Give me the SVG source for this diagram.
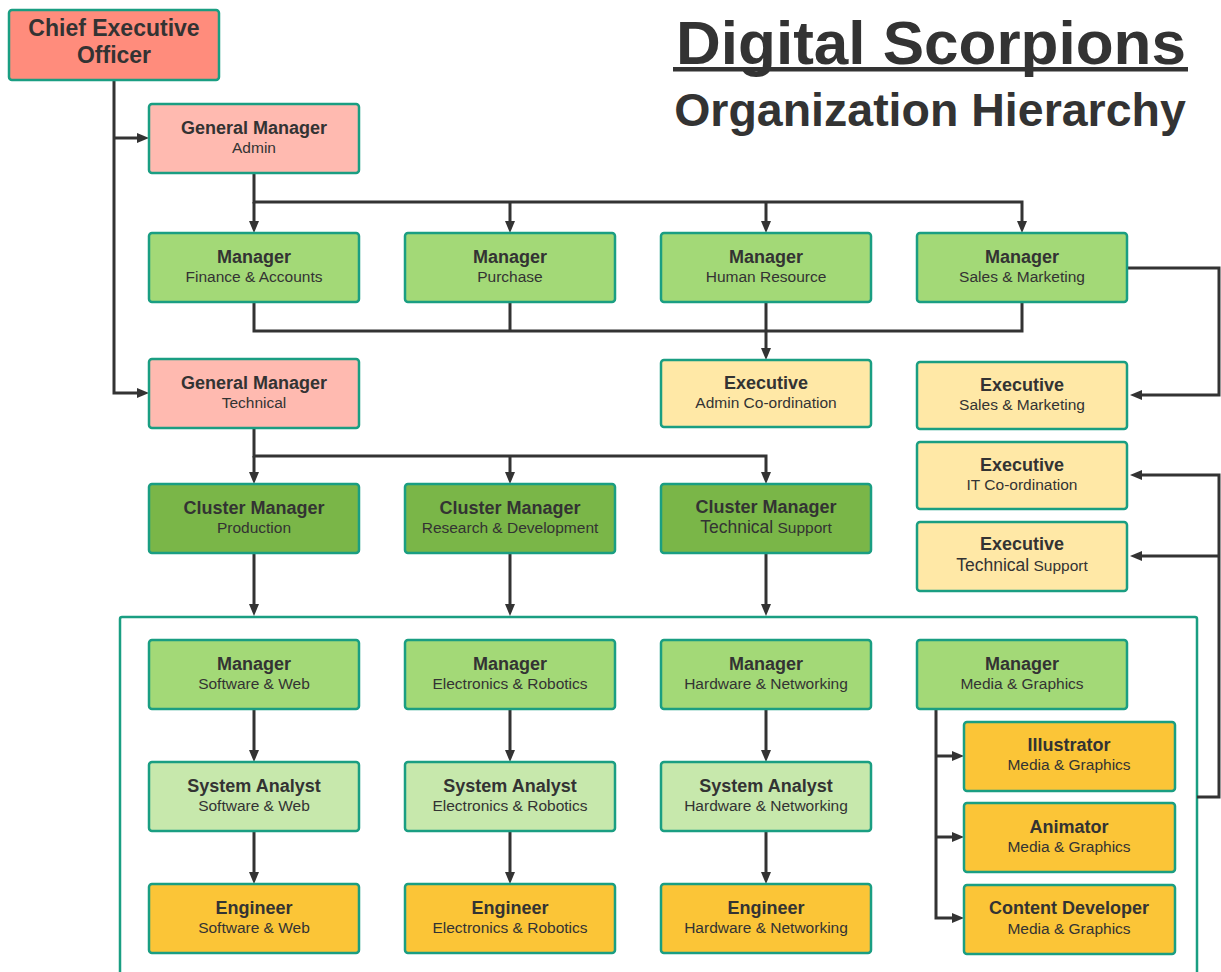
<svg xmlns="http://www.w3.org/2000/svg" width="1221" height="972" viewBox="0 0 1221 972">
<style>
.n rect{stroke:#1A9E82;stroke-width:2.5}
.ceo{fill:#FF8C7C}.gm{fill:#FFBAB0}.mg{fill:#A3D977}.cl{fill:#7AB648}.sa{fill:#C7E8AC}.en{fill:#FBC537}.ex{fill:#FFE8A6}
text{font-family:"Liberation Sans",Arial,sans-serif;fill:#333;text-anchor:middle}
.t{font-weight:bold;font-size:18px}
.s{font-size:15.5px}
.b{font-size:17.5px}
.c path{fill:none;stroke:#333;stroke-width:3}
</style>
<defs>
<marker id="a" viewBox="0 0 12 10" refX="2" refY="5" markerWidth="12" markerHeight="10" markerUnits="userSpaceOnUse" orient="auto"><path d="M0,0 L12,5 L0,10 z" fill="#333"/></marker>
</defs>
<rect width="1221" height="972" fill="#fff"/>
<g id="title">
<text x="931" y="64" style="font-weight:bold;font-size:62px">Digital Scorpions</text>
<rect x="673" y="67" width="515" height="4.5" fill="#333"/>
<text x="930" y="126" style="font-weight:bold;font-size:46.5px">Organization Hierarchy</text>
</g>
<rect x="120" y="617" width="1077" height="370" fill="none" stroke="#1A9E82" stroke-width="2.5" rx="2"/>
<g class="c">
<path d="M114,80 V393 H139" marker-end="url(#a)"/>
<path d="M114,138 H139" marker-end="url(#a)"/>
<path d="M254,173 V202 H1022 V223" marker-end="url(#a)"/>
<path d="M254,202 V223" marker-end="url(#a)"/>
<path d="M510,202 V223" marker-end="url(#a)"/>
<path d="M766,202 V223" marker-end="url(#a)"/>
<path d="M254,302 V331 H1022 V302"/>
<path d="M510,302 V331"/>
<path d="M766,302 V350" marker-end="url(#a)"/>
<path d="M1128,268 H1219 V395 H1140" marker-end="url(#a)"/>
<path d="M1197,797 H1219 V475 H1140" marker-end="url(#a)"/>
<path d="M1219,556 H1140" marker-end="url(#a)"/>
<path d="M254,428 V456 H766 V474" marker-end="url(#a)"/>
<path d="M254,456 V474" marker-end="url(#a)"/>
<path d="M510,456 V474" marker-end="url(#a)"/>
<path d="M254,553 V606" marker-end="url(#a)"/>
<path d="M510,553 V606" marker-end="url(#a)"/>
<path d="M766,553 V606" marker-end="url(#a)"/>
<path d="M254,709 V752" marker-end="url(#a)"/>
<path d="M510,709 V752" marker-end="url(#a)"/>
<path d="M766,709 V752" marker-end="url(#a)"/>
<path d="M254,831 V874" marker-end="url(#a)"/>
<path d="M510,831 V874" marker-end="url(#a)"/>
<path d="M766,831 V874" marker-end="url(#a)"/>
<path d="M936,709 V918 H954" marker-end="url(#a)"/>
<path d="M936,756 H954" marker-end="url(#a)"/>
<path d="M936,837 H954" marker-end="url(#a)"/>
</g>
<g id="ceo" class="n"><rect class="ceo" x="9" y="10" width="210" height="70" rx="3"/><text x="114" y="36" style="font-weight:bold;font-size:23px">Chief Executive</text><text x="114" y="63" style="font-weight:bold;font-size:23px">Officer</text></g>
<g id="gm-admin" class="n"><rect class="gm" x="149" y="104" width="210" height="69" rx="3"/><text class="t" x="254" y="134">General Manager</text><text class="s" x="254" y="153">Admin</text></g>
<g id="m-fin" class="n"><rect class="mg" x="149" y="233" width="210" height="69" rx="3"/><text class="t" x="254" y="263">Manager</text><text class="s" x="254" y="282">Finance &amp; Accounts</text></g>
<g id="m-pur" class="n"><rect class="mg" x="405" y="233" width="210" height="69" rx="3"/><text class="t" x="510" y="263">Manager</text><text class="s" x="510" y="282">Purchase</text></g>
<g id="m-hr" class="n"><rect class="mg" x="661" y="233" width="210" height="69" rx="3"/><text class="t" x="766" y="263">Manager</text><text class="s" x="766" y="282">Human Resource</text></g>
<g id="m-sales" class="n"><rect class="mg" x="917" y="233" width="210" height="69" rx="3"/><text class="t" x="1022" y="263">Manager</text><text class="s" x="1022" y="282">Sales &amp; Marketing</text></g>
<g id="gm-tech" class="n"><rect class="gm" x="149" y="359" width="210" height="69" rx="3"/><text class="t" x="254" y="389">General Manager</text><text class="s" x="254" y="408">Technical</text></g>
<g id="ex-admin" class="n"><rect class="ex" x="661" y="360" width="210" height="67" rx="3"/><text class="t" x="766" y="389">Executive</text><text class="s" x="766" y="408">Admin Co-ordination</text></g>
<g id="ex-sales" class="n"><rect class="ex" x="917" y="362" width="210" height="67" rx="3"/><text class="t" x="1022" y="391">Executive</text><text class="s" x="1022" y="410">Sales &amp; Marketing</text></g>
<g id="ex-it" class="n"><rect class="ex" x="917" y="442" width="210" height="67" rx="3"/><text class="t" x="1022" y="471">Executive</text><text class="s" x="1022" y="490">IT Co-ordination</text></g>
<g id="ex-ts" class="n"><rect class="ex" x="917" y="522" width="210" height="69" rx="3"/><text class="t" x="1022" y="550">Executive</text><text class="s" x="1022" y="571"><tspan class="b">Technical</tspan> Support</text></g>
<g id="cl-prod" class="n"><rect class="cl" x="149" y="484" width="210" height="69" rx="3"/><text class="t" x="254" y="514">Cluster Manager</text><text class="s" x="254" y="533">Production</text></g>
<g id="cl-rd" class="n"><rect class="cl" x="405" y="484" width="210" height="69" rx="3"/><text class="t" x="510" y="514">Cluster Manager</text><text class="s" x="510" y="533">Research &amp; Development</text></g>
<g id="cl-ts" class="n"><rect class="cl" x="661" y="484" width="210" height="69" rx="3"/><text class="t" x="766" y="513">Cluster Manager</text><text class="s" x="766" y="533"><tspan class="b">Technical</tspan> Support</text></g>
<g id="m-sw" class="n"><rect class="mg" x="149" y="640" width="210" height="69" rx="3"/><text class="t" x="254" y="670">Manager</text><text class="s" x="254" y="689">Software &amp; Web</text></g>
<g id="m-er" class="n"><rect class="mg" x="405" y="640" width="210" height="69" rx="3"/><text class="t" x="510" y="670">Manager</text><text class="s" x="510" y="689">Electronics &amp; Robotics</text></g>
<g id="m-hn" class="n"><rect class="mg" x="661" y="640" width="210" height="69" rx="3"/><text class="t" x="766" y="670">Manager</text><text class="s" x="766" y="689">Hardware &amp; Networking</text></g>
<g id="m-mg" class="n"><rect class="mg" x="917" y="640" width="210" height="69" rx="3"/><text class="t" x="1022" y="670">Manager</text><text class="s" x="1022" y="689">Media &amp; Graphics</text></g>
<g id="sa-sw" class="n"><rect class="sa" x="149" y="762" width="210" height="69" rx="3"/><text class="t" x="254" y="792">System Analyst</text><text class="s" x="254" y="811">Software &amp; Web</text></g>
<g id="sa-er" class="n"><rect class="sa" x="405" y="762" width="210" height="69" rx="3"/><text class="t" x="510" y="792">System Analyst</text><text class="s" x="510" y="811">Electronics &amp; Robotics</text></g>
<g id="sa-hn" class="n"><rect class="sa" x="661" y="762" width="210" height="69" rx="3"/><text class="t" x="766" y="792">System Analyst</text><text class="s" x="766" y="811">Hardware &amp; Networking</text></g>
<g id="en-sw" class="n"><rect class="en" x="149" y="884" width="210" height="69" rx="3"/><text class="t" x="254" y="914">Engineer</text><text class="s" x="254" y="933">Software &amp; Web</text></g>
<g id="en-er" class="n"><rect class="en" x="405" y="884" width="210" height="69" rx="3"/><text class="t" x="510" y="914">Engineer</text><text class="s" x="510" y="933">Electronics &amp; Robotics</text></g>
<g id="en-hn" class="n"><rect class="en" x="661" y="884" width="210" height="69" rx="3"/><text class="t" x="766" y="914">Engineer</text><text class="s" x="766" y="933">Hardware &amp; Networking</text></g>
<g id="ill" class="n"><rect class="en" x="964" y="722" width="211" height="69" rx="3"/><text class="t" x="1069" y="751">Illustrator</text><text class="s" x="1069" y="770">Media &amp; Graphics</text></g>
<g id="ani" class="n"><rect class="en" x="964" y="803" width="211" height="69" rx="3"/><text class="t" x="1069" y="833">Animator</text><text class="s" x="1069" y="852">Media &amp; Graphics</text></g>
<g id="cd" class="n"><rect class="en" x="964" y="885" width="211" height="69" rx="3"/><text class="t" x="1069" y="914">Content Developer</text><text class="s" x="1069" y="934">Media &amp; Graphics</text></g>
</svg>
